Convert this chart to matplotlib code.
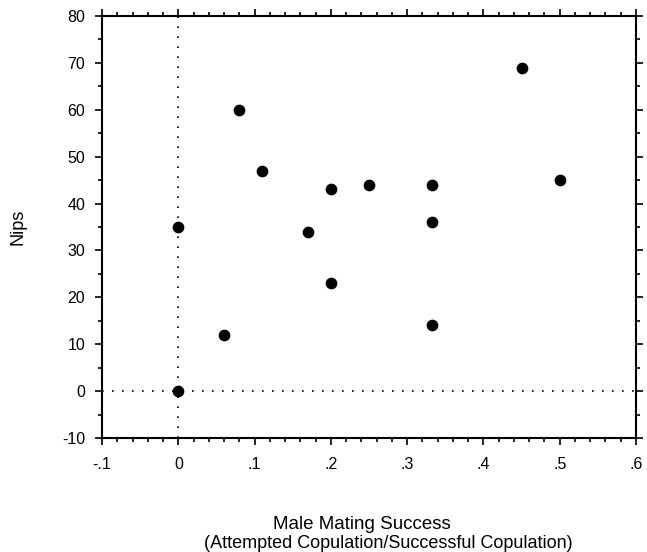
import matplotlib.pyplot as plt

plt.rcParams['font.family'] = ['Liberation Sans', 'DejaVu Sans']
plt.rcParams['axes.unicode_minus'] = False

success = [0, 0, 0.06, 0.08, 0.11, 0.17, 0.2, 0.2, 0.25, 0.333, 0.333, 0.333, 0.45, 0.5]
nips = [0, 35, 12, 60, 47, 34, 43, 23, 44, 44, 36, 14, 69, 45]

xticks = [-0.1, 0, 0.1, 0.2, 0.3, 0.4, 0.5, 0.6]
xticklabels = ["-.1", "0", ".1", ".2", ".3", ".4", ".5", ".6"]
yticks = [-10, 0, 10, 20, 30, 40, 50, 60, 70, 80]

fig = plt.figure(figsize=(6.47, 5.52), dpi=100)
ax = fig.add_axes([0.1577, 0.2065, 0.8253, 0.7645])

ax.axvline(0, color="black", linestyle=(0, (1, 5)), linewidth=1.2)
ax.axhline(0, color="black", linestyle=(0, (1, 5)), linewidth=1.2)
ax.scatter(success, nips, s=55, color="black", zorder=3)

ax.set_xlim(-0.1, 0.6)
ax.set_ylim(-10, 80)
ax.set_xticks(xticks)
ax.set_xticklabels(xticklabels)
ax.set_yticks(yticks)
ax.set_yticklabels([str(y) for y in yticks])
ax.set_xticks([x / 100 for x in range(-10, 61, 2)], minor=True)
ax.set_yticks(range(-10, 81, 5), minor=True)

for s in ax.spines.values():
    s.set_linewidth(1.5)
ax.tick_params(which="both", direction="out", top=True, right=True, labelsize=11.5, width=1.2)
ax.tick_params(which="major", length=5)
ax.tick_params(which="minor", length=3)
ax.tick_params(axis="x", pad=9)
ax.tick_params(axis="y", pad=7)

ax.set_ylabel("Nips", fontsize=13, labelpad=26)
fig.text(0.56, 0.042, "Male Mating Success", fontsize=13.5, ha="center")
fig.text(0.6, 0.008, "(Attempted Copulation/Successful Copulation)", fontsize=13, ha="center")

plt.savefig("out.png", dpi=100)
